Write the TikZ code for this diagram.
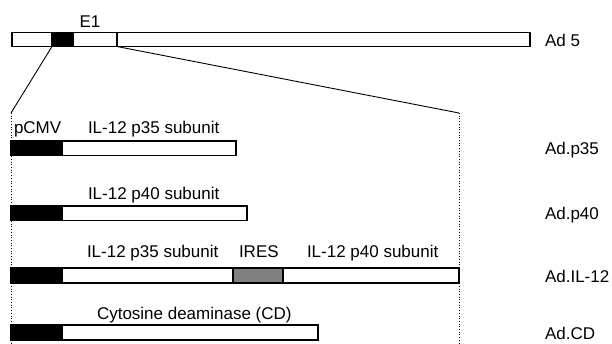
\documentclass[tikz,border=0pt]{standalone}
\usepackage{fontspec}
\setmainfont{Liberation Sans}
\begin{document}
\begin{tikzpicture}[x=1pt,y=-1pt,
  lbl/.style={inner sep=0pt, outer sep=0pt, anchor=base west, font=\fontsize{17}{20}\selectfont},
  seg/.style={draw, line width=1.1pt, inner sep=0pt, outer sep=0pt, anchor=north west, fill=white},
  blk/.style={seg, fill=black},
  gry/.style={seg, fill=black!50},
  zoomline/.style={line width=0.9pt},
  guide/.style={line width=0.7pt, dotted}]
\useasboundingbox (0,0) rectangle (612,343);
% Ad5 genome
\node[seg, minimum width=518pt, minimum height=14pt] (ad5) at (12,32.5) {};
\node[blk, minimum width=21pt, minimum height=14pt] (e1p) at (52,32.5) {};
\node[seg, minimum width=44pt, minimum height=14pt] (e1) at (73,32.5) {};
\node[lbl, anchor=base] (e1l) at (90,27) {E1};
\node[lbl] (ad5l) at (545,46) {Ad 5};
% zoom lines
\coordinate (zl) at (11,113);
\coordinate (zr) at (459,113);
\coordinate (zlb) at (11,343);
\coordinate (zrb) at (459,343);
\draw[zoomline] (e1p.south west) -- (zl);
\draw[zoomline] (e1.south east) -- (zr);
\draw[guide] (zl) -- (zlb);
\draw[guide] (zr) -- (zrb);
% Ad.p35
\node[seg, minimum width=225pt, minimum height=14.5pt] (p35w) at (11,141) {};
\node[blk, minimum width=51pt, minimum height=14.5pt] (p35c) at (11,141) {};
\node[lbl] (pcmv) at (14,133) {pCMV};
\node[lbl] (p35l) at (88,133) {IL-12 p35 subunit};
\node[lbl] (adp35) at (545,154) {Ad.p35};
% Ad.p40
\node[seg, minimum width=236pt, minimum height=14.5pt] (p40w) at (11,206) {};
\node[blk, minimum width=51pt, minimum height=14.5pt] (p40c) at (11,206) {};
\node[lbl] (p40l) at (88,199) {IL-12 p40 subunit};
\node[lbl] (adp40) at (545,219) {Ad.p40};
% Ad.IL-12
\node[seg, minimum width=448pt, minimum height=15pt] (il12w) at (11,268) {};
\node[blk, minimum width=51pt, minimum height=15pt] (il12c) at (11,268) {};
\node[gry, minimum width=50pt, minimum height=15pt] (ires) at (233,268) {};
\node[lbl] (il35l) at (87,257) {IL-12 p35 subunit};
\node[lbl] (iresl) at (239,257) {IRES};
\node[lbl] (il40l) at (307,257) {IL-12 p40 subunit};
\node[lbl] (adil12) at (545,282) {Ad.IL-12};
% Ad.CD
\node[seg, minimum width=307pt, minimum height=15pt] (cdw) at (11,325) {};
\node[blk, minimum width=51pt, minimum height=15pt] (cdc) at (11,325) {};
\node[lbl] (cdl) at (97,319) {Cytosine deaminase (CD)};
\node[lbl] (adcd) at (545,339) {Ad.CD};
\end{tikzpicture}
\end{document}
